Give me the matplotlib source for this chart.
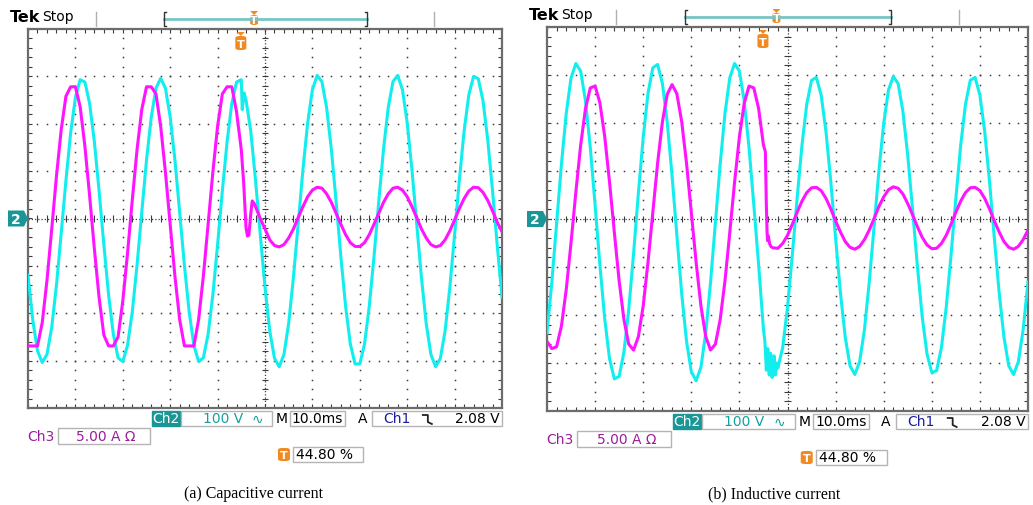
import numpy as np
import matplotlib.pyplot as plt
from matplotlib.patches import Rectangle, Polygon, FancyBboxPatch
from matplotlib.collections import LineCollection

# scope time base: 10 divisions (10 ms/div), trace read every 0.1 div
t_div = np.linspace(0, 10, 101)

# (a) capacitive current, values in vertical divisions
cap_volt = [-1.20, -2.14, -2.79, -3.04, -2.87, -2.30, -1.41, -0.32, 0.80, 1.81,
            2.55, 2.93, 2.88, 2.43, 1.62, 0.58, -0.55, -1.61, -2.44, -2.94,
            -3.02, -2.68, -1.97, -0.99, 0.13, 1.23, 2.14, 2.75, 2.96, 2.75,
            2.14, 1.23, 0.13, -0.99, -1.97, -2.68, -3.02, -2.94, -2.44, -1.61,
            -0.55, 0.58, 1.62, 2.43, 2.88, 2.93, 2.50, 1.84, 0.81, -0.34,
            -1.45, -2.37, -2.95, -3.13, -2.87, -2.21, -1.24, -0.11, 1.03, 2.02,
            2.72, 3.02, 2.89, 2.34, 1.46, 0.36, -0.80, -1.85, -2.65, -3.07,
            -3.07, -2.65, -1.85, -0.80, 0.36, 1.46, 2.34, 2.89, 3.02, 2.72,
            2.02, 1.03, -0.11, -1.24, -2.21, -2.87, -3.13, -2.95, -2.37, -1.45,
            -0.34, 0.81, 1.84, 2.61, 3.00, 2.95, 2.48, 1.65, 0.59, -0.57, -1.66]
cap_volt_extra_t = [4.52, 4.56]
cap_volt_extra_v = [2.30, 2.65]

cap_curr = [-2.69, -2.69, -2.69, -2.20, -1.31, -0.23, 0.89, 1.87, 2.58, 2.78,
            2.78, 2.36, 1.53, 0.48, -0.64, -1.67, -2.46, -2.69, -2.69, -2.50,
            -1.74, -0.73, 0.39, 1.45, 2.30, 2.78, 2.78, 2.63, 1.94, 0.97,
            -0.13, -1.22, -2.14, -2.69, -2.69, -2.69, -2.13, -1.21, -0.12, 0.98,
            1.95, 2.63, 2.78, 2.78, 2.25, 1.45, -0.20, 0.10, 0.25, 0.00,
            -0.22, -0.45, -0.57, -0.60, -0.55, -0.41, -0.22, 0.02, 0.25, 0.46,
            0.60, 0.66, 0.64, 0.52, 0.34, 0.11, -0.12, -0.34, -0.51, -0.59,
            -0.59, -0.51, -0.34, -0.12, 0.11, 0.34, 0.52, 0.64, 0.66, 0.60,
            0.46, 0.25, 0.02, -0.22, -0.41, -0.55, -0.60, -0.57, -0.45, -0.26,
            -0.03, 0.21, 0.42, 0.58, 0.66, 0.65, 0.55, 0.38, 0.16, -0.08, -0.28]
cap_curr_extra_t = [4.55, 4.63, 4.66, 4.73, 4.77]
cap_curr_extra_v = [0.75, -0.37, -0.35, 0.37, 0.32]

# (b) inductive current
ind_volt = [-2.37, -1.32, -0.09, 1.14, 2.20, 2.94, 3.24, 3.08, 2.46, 1.49,
            0.29, -0.96, -2.08, -2.91, -3.33, -3.28, -2.77, -1.88, -0.72, 0.54,
            1.70, 2.62, 3.15, 3.22, 2.82, 2.01, 0.90, -0.34, -1.55, -2.54,
            -3.18, -3.37, -3.09, -2.37, -1.32, -0.09, 1.14, 2.20, 2.94, 3.24,
            3.08, 2.46, 1.49, 0.29, -0.96, -2.30, -2.85, -3.05, -3.10, -2.68,
            -1.84, -0.75, 0.43, 1.53, 2.39, 2.89, 2.95, 2.58, 1.82, 0.78,
            -0.40, -1.53, -2.46, -3.06, -3.24, -2.97, -2.30, -1.31, -0.16, 1.00,
            1.99, 2.69, 2.97, 2.82, 2.24, 1.32, 0.20, -0.98, -2.03, -2.81,
            -3.20, -3.16, -2.68, -1.84, -0.75, 0.43, 1.53, 2.39, 2.89, 2.95,
            2.58, 1.82, 0.78, -0.40, -1.53, -2.46, -3.06, -3.24, -2.97, -2.30, -1.31]
ind_volt_extra_t = [4.53, 4.56, 4.59, 4.62, 4.65, 4.68, 4.72, 4.75, 4.78]
ind_volt_extra_v = [-2.55, -3.15, -2.70, -3.25, -2.80, -3.30, -2.85, -3.25, -3.00]

ind_curr = [-2.55, -2.70, -2.66, -2.23, -1.47, -0.49, 0.56, 1.54, 2.30, 2.73,
            2.77, 2.42, 1.72, 0.77, -0.28, -1.29, -2.10, -2.61, -2.73, -2.45,
            -1.81, -0.90, 0.14, 1.17, 2.03, 2.60, 2.80, 2.61, 2.03, 1.17,
            0.14, -0.90, -1.81, -2.45, -2.73, -2.61, -2.10, -1.29, -0.28, 0.77,
            1.71, 2.41, 2.77, 2.73, 2.30, 1.54, -0.35, -0.60, -0.61, -0.51,
            -0.34, -0.11, 0.14, 0.37, 0.55, 0.65, 0.66, 0.59, 0.43, 0.21,
            -0.04, -0.27, -0.47, -0.59, -0.63, -0.57, -0.43, -0.23, 0.01, 0.26,
            0.46, 0.61, 0.67, 0.64, 0.52, 0.32, 0.09, -0.16, -0.38, -0.54,
            -0.62, -0.61, -0.51, -0.34, -0.11, 0.14, 0.37, 0.55, 0.65, 0.66,
            0.59, 0.43, 0.21, -0.04, -0.27, -0.47, -0.59, -0.63, -0.57, -0.43, -0.23]
ind_curr_extra_t = [4.54, 4.56, 4.575, 4.585, 4.63, 4.66]
ind_curr_extra_v = [1.40, 0.30, -0.27, -0.45, -0.52, -0.58]

captions = ["(a) Capacitive current", "(b) Inductive current"]
ch2_scale = "100 V"
ch3_scale = "5.00 A \u03a9"
timebase = "10.0ms"
trig_level = "2.08 V"
trig_pos = "44.80 %"

CYAN = "#12EEEE"
MAGENTA = "#FF14FF"
TEAL = "#1a9696"
ORANGE = "#F28A22"
GRID = "#3c3c3c"

W, H = 1033, 506
fig = plt.figure(figsize=(W / 100, H / 100), dpi=100)

# screen rectangles in pixels: left, top, right, bottom
screens = [(28, 30, 502, 409), (547, 28, 1028, 412)]


def merged(t, v, et, ev):
    tt = np.concatenate([t, et])
    vv = np.concatenate([v, ev])
    o = np.argsort(tt, kind="stable")
    return tt[o], vv[o]


def ftext(x, y, s, **kw):
    kw.setdefault("family", "DejaVu Sans")
    kw.setdefault("va", "center")
    fig.text(x / W, 1 - y / H, s, **kw)


def fbox(x0, y0, x1, y1, fc="white", ec="#b4b4b4"):
    fig.add_artist(Rectangle((x0 / W, 1 - y1 / H), (x1 - x0) / W, (y1 - y0) / H,
                             transform=fig.transFigure, fc=fc, ec=ec, lw=1))


def fline(xs, ys, **kw):
    fig.add_artist(plt.Line2D([x / W for x in xs], [1 - y / H for y in ys],
                              transform=fig.transFigure, **kw))


def t_icon(xc, y0, y1, w, arrow=False):
    if arrow:
        fig.add_artist(Polygon([((xc - 4) / W, 1 - (y0 - 4) / H), ((xc + 4) / W, 1 - (y0 - 4) / H),
                                (xc / W, 1 - y0 / H)], transform=fig.transFigure,
                               fc=ORANGE, ec="none"))
    fig.add_artist(FancyBboxPatch(((xc - w / 2) / W, 1 - y1 / H), w / W, (y1 - y0) / H,
                                  boxstyle="round,pad=0,rounding_size=0.004",
                                  transform=fig.transFigure, fc=ORANGE, ec="none"))
    ftext(xc, (y0 + y1) / 2 + 0.5, "T", color="white", fontsize=8, weight="bold", ha="center")


def graticule(ax):
    ax.set_xlim(0, 10)
    ax.set_ylim(-4, 4)
    ax.set_xticks([])
    ax.set_yticks([])
    for s in ax.spines.values():
        s.set_color("#6c6c6c")
        s.set_linewidth(1.6)
    fx = np.arange(0, 10.01, 0.2)
    fy = np.arange(-4, 4.01, 0.2)
    for g in range(1, 10):
        if g != 5:
            ax.plot(np.full_like(fy, g), fy, ls="none", marker="s", ms=1.1, mew=0, color=GRID)
    for g in range(-3, 4):
        if g != 0:
            ax.plot(fx, np.full_like(fx, g), ls="none", marker="s", ms=1.1, mew=0, color=GRID)
    ax.axhline(0, color=GRID, lw=0.9, ls=(0, (1, 1.6)))
    ax.axvline(5, color=GRID, lw=0.9, ls=(0, (1, 1.6)))
    segs = []
    for x in fx:
        segs += [[(x, -0.07), (x, 0.07)], [(x, -4), (x, -3.92)], [(x, 4), (x, 3.92)]]
    for y in fy:
        segs += [[(4.93, y), (5.07, y)], [(0, y), (0.08, y)], [(10, y), (9.92, y)]]
    ax.add_collection(LineCollection(segs, colors=GRID, linewidths=0.8))


def panel(k, volt, vet, vev, curr, cet, cev):
    L, T, R, B = screens[k]
    Wd = R - L
    ax = fig.add_axes([L / W, 1 - B / H, Wd / W, (B - T) / H])
    graticule(ax)
    tv, vv = merged(t_div, volt, vet, vev)
    ax.plot(tv, vv, color=CYAN, lw=2.2, zorder=3, solid_joinstyle="round")
    tc, vc = merged(t_div, curr, cet, cev)
    ax.plot(tc, vc, color=MAGENTA, lw=2.2, zorder=4, solid_joinstyle="round")

    def X(f):
        return L + f * Wd

    # top status bar
    ftext(L - 18, T - 12, "Tek", fontsize=11.5, weight="bold")
    ftext(L + 14, T - 13, "Stop", fontsize=10)
    for f in (0.143, 0.857):
        fline([X(f), X(f)], [T - 17, T - 3], color="#b0b0b0", lw=1)
    y_bar = T - 10
    fline([X(0.287), X(0.715)], [y_bar, y_bar], color="#78c4c4", lw=2)
    fline([X(0.287) + 2, X(0.287), X(0.287), X(0.287) + 2], [T - 17, T - 17, T - 3, T - 3], color="#333333", lw=1)
    fline([X(0.715) - 2, X(0.715), X(0.715), X(0.715) - 2], [T - 17, T - 17, T - 3, T - 3], color="#333333", lw=1)
    t_icon(X(0.477), T - 14, T - 4, 8, arrow=True)
    t_icon(X(0.449), T + 7, T + 21, 11, arrow=True)

    # channel 2 ground marker
    yc = (T + B) / 2
    fig.add_artist(Polygon([((L - 20) / W, 1 - (yc - 8) / H), ((L - 4) / W, 1 - (yc - 8) / H),
                            (L / W, 1 - yc / H), ((L - 4) / W, 1 - (yc + 8) / H),
                            ((L - 20) / W, 1 - (yc + 8) / H)],
                           transform=fig.transFigure, fc=TEAL, ec="none"))
    ftext(L - 12, yc + 0.5, "2", color="white", fontsize=10, weight="bold", ha="center")

    # readouts
    r1 = (B + 3, B + 18)
    fbox(X(0.262), r1[0], X(0.321), r1[1], fc=TEAL, ec=TEAL)
    ftext(X(0.2915), sum(r1) / 2, "Ch2", color="white", fontsize=10, ha="center")
    fbox(X(0.323), r1[0], X(0.515), r1[1])
    ftext(X(0.369), sum(r1) / 2, ch2_scale, color="#13a0a0", fontsize=10)
    ftext(X(0.483), sum(r1) / 2, "\u223f", color="#13a0a0", fontsize=10, ha="center")
    ftext(X(0.536), sum(r1) / 2, "M", fontsize=10, ha="center")
    fbox(X(0.553), r1[0], X(0.669), r1[1])
    ftext(X(0.611), sum(r1) / 2, timebase, fontsize=10, ha="center")
    ftext(X(0.705), sum(r1) / 2, "A", fontsize=10, ha="center")
    fbox(X(0.726), r1[0], X(1.0), r1[1])
    ftext(X(0.778), sum(r1) / 2, "Ch1", color="#1c1c9c", fontsize=10, ha="center")
    xs = X(0.833)
    fline([xs, xs + 5, xs + 5, xs + 9], [r1[0] + 4, r1[0] + 4, r1[1] - 4, r1[1] - 2], color="#222222", lw=1.3)
    ftext(X(0.995), sum(r1) / 2, trig_level, fontsize=10, ha="right")

    r2 = (B + 20, B + 36)
    ftext(L - 1, sum(r2) / 2, "Ch3", color="#9c1c9c", fontsize=10)
    fbox(X(0.063), r2[0], X(0.257), r2[1])
    ftext(X(0.165), sum(r2) / 2, ch3_scale, color="#9c1c9c", fontsize=10, ha="center")

    r3 = (B + 39, B + 54)
    t_icon(X(0.54), r3[0] + 1, r3[1] - 1, 12)
    fbox(X(0.559), r3[0], X(0.707), r3[1])
    ftext(X(0.565), sum(r3) / 2, trig_pos, fontsize=10)


panel(0, cap_volt, cap_volt_extra_t, cap_volt_extra_v, cap_curr, cap_curr_extra_t, cap_curr_extra_v)
panel(1, ind_volt, ind_volt_extra_t, ind_volt_extra_v, ind_curr, ind_curr_extra_t, ind_curr_extra_v)

for xc, cap in zip((253, 774), captions):
    ftext(xc, 494, cap, family="Liberation Serif", fontsize=11.5, ha="center")

fig.savefig("out.png", dpi=100)
